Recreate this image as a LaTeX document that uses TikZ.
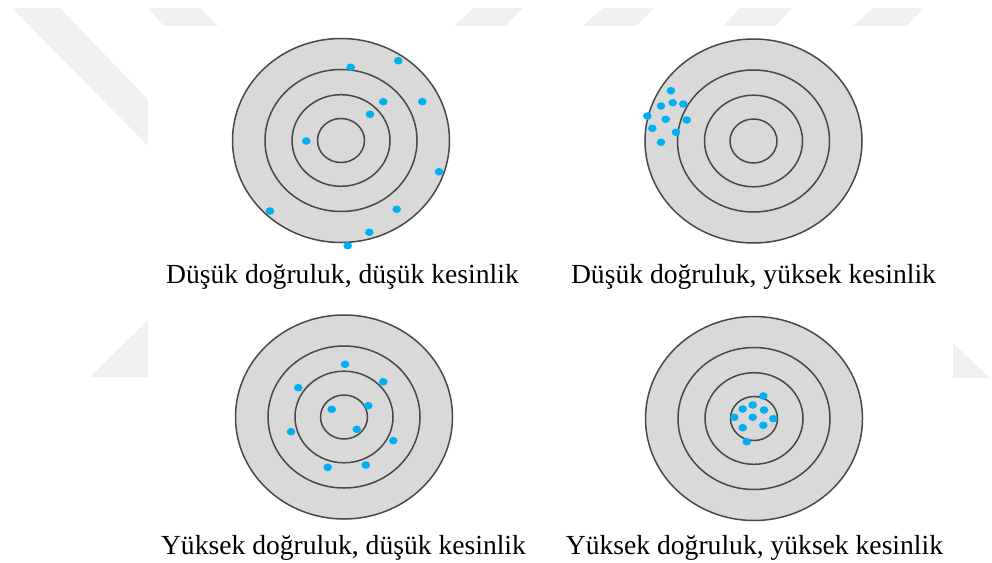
\documentclass[tikz,border=0pt]{standalone}
\usepackage{fontspec}
\setmainfont{Liberation Serif}
\begin{document}
\begin{tikzpicture}[x=1pt,y=-1pt,
  wm/.style={fill=wmgray,draw=none},
  tface/.style={fill=tgray,draw=ringgray,line width=1.5pt},
  ring/.style={draw=ringgray,line width=1.5pt},
  hit/.style={fill=dotblue,draw=none},
  lbl/.style={anchor=base,inner sep=0pt,font=\fontsize{27.6}{30}\selectfont,text=black}]
\definecolor{wmgray}{HTML}{F0F0F0}
\definecolor{tgray}{HTML}{D9D9D9}
\definecolor{ringgray}{HTML}{484848}
\definecolor{dotblue}{HTML}{00B0F0}
\useasboundingbox (0,0) rectangle (992,562);
\fill[white] (0,0) rectangle (992,562);
% watermark
\fill[wm] (12,8) -- (60,8) -- (160,112) -- (160,158) -- cycle;
\fill[wm] (148,8) -- (200,8) -- (220,28) -- (166,28) -- cycle;
\fill[wm] (474,8) -- (523,8) -- (505,26) -- (454,26) -- cycle;
\fill[wm] (603,8) -- (654,8) -- (636,26) -- (583,26) -- cycle;
\fill[wm] (740,8) -- (792,8) -- (776,26) -- (723,26) -- cycle;
\fill[wm] (873,8) -- (924,8) -- (906,26) -- (853,26) -- cycle;
\fill[wm] (90,377) -- (148,320) -- (148,377) -- cycle;
\fill[wm] (953,343) -- (953,378) -- (990,378) -- cycle;
\fill[white] (148,26) rectangle (953,562);
% targets
\foreach \cx/\cy in {341/140.5, 753.5/141, 344/417, 754/418.5}{
  \begin{scope}[shift={(\cx,\cy)}]
    \path[tface] (0,0) ellipse [x radius=108.5, y radius=102];
    \draw[ring] (0,0) ellipse [x radius=76, y radius=71];
    \draw[ring] (0,0) ellipse [x radius=49, y radius=45.8];
    \draw[ring] (0,0) ellipse [x radius=23.5, y radius=22];
  \end{scope}
}
% hits
\foreach \px/\py in {
  350.7/67.3, 398.3/60.7, 383.3/101.7, 422.3/101.7, 370/114.3, 306.3/141,
  439/171.7, 270/211, 396.7/209.3, 369.3/232.3, 347.7/245.7,
  671/90.7, 661/106, 672.7/102.7, 683.3/104, 647.3/116, 665.7/119.3,
  686.7/120, 652.3/128.3, 676/132.3, 661/142.3,
  345/364.3, 383.3/381.7, 298.3/387.7, 368.3/405.7, 331.7/409.3,
  356.7/429.3, 291/431.7, 393.3/440.7, 327.7/467.3, 365.7/465,
  763.3/396, 742.7/409, 752.7/405, 764/410, 734.3/417.3, 752.7/417.3,
  773.3/418.7, 742.7/427.7, 763.3/425.3, 746.7/441.7}{
  \fill[hit] (\px,\py) ellipse [x radius=4.3, y radius=3.8];
}
% labels
\node[lbl] (l1) at (342.5,283) {Düşük doğruluk, düşük kesinlik};
\node[lbl] (l2) at (753.5,283) {Düşük doğruluk, yüksek kesinlik};
\node[lbl] (l3) at (343.5,554) {Yüksek doğruluk, düşük kesinlik};
\node[lbl] (l4) at (754.5,554) {Yüksek doğruluk, yüksek kesinlik};
\end{tikzpicture}
\end{document}
